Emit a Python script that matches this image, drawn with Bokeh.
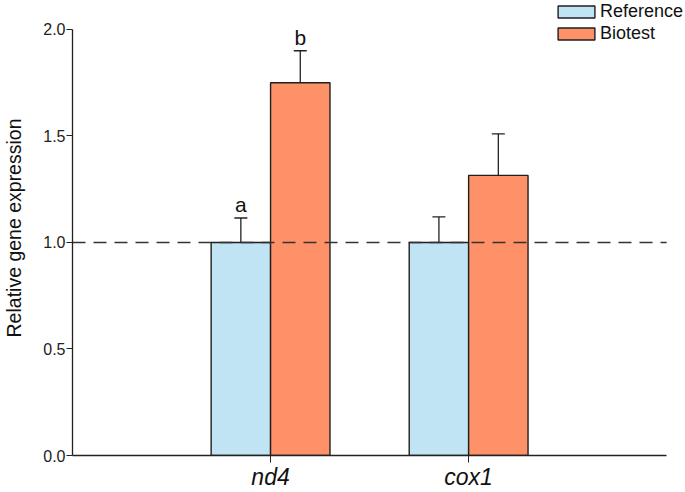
from bokeh.plotting import figure
from bokeh.models import ColumnDataSource, Whisker, TeeHead, FixedTicker, Legend, LegendItem, Range1d, PrintfTickFormatter
from bokeh.core.properties import value
from bokeh.embed import file_html
from bokeh.resources import INLINE

genes = ["nd4", "cox1"]
reference = [1.0, 1.0]
reference_err = [0.115, 0.12]
biotest = [1.75, 1.315]
biotest_err = [0.15, 0.195]
letters_ref = ["a", ""]
letters_bio = ["b", ""]
series = ["Reference", "Biotest"]
colors = ["#C0E4F3", "#FF9168"]
yticks = [0.0, 0.5, 1.0, 1.5, 2.0]
baseline = 1.0

pos = [i + 1 for i in range(len(genes))]
x_lo, x_hi = 0, len(genes) + 1
bw = 0.3
ref_x = [p - bw / 2 for p in pos]
bio_x = [p + bw / 2 for p in pos]

p = figure(width=685, height=492, output_backend="svg", toolbar_location=None,
           x_range=Range1d(0, 3.095), y_range=Range1d(0, 2.136),
           min_border_left=69, min_border_right=0, min_border_top=0, min_border_bottom=37)
p.outline_line_color = None
p.grid.visible = False
p.background_fill_color = None
p.border_fill_color = "white"

src_ref = ColumnDataSource(dict(x=ref_x, top=reference, up=[v + e for v, e in zip(reference, reference_err)], lab=letters_ref))
src_bio = ColumnDataSource(dict(x=bio_x, top=biotest, up=[v + e for v, e in zip(biotest, biotest_err)], lab=letters_bio))

r1 = p.vbar(x="x", top="top", width=bw, source=src_ref, fill_color=colors[0], line_color="#1f1f1f", line_width=1.4)
r2 = p.vbar(x="x", top="top", width=bw, source=src_bio, fill_color=colors[1], line_color="#1f1f1f", line_width=1.4)

p.line(x=[x_lo, x_hi], y=[baseline, baseline], line_color="#333333", line_dash="13 8", line_width=1.3)

for s in (src_ref, src_bio):
    w = Whisker(source=s, base="x", lower="top", upper="up", line_color="#222222", line_width=1.3,
                upper_head=TeeHead(size=13, line_color="#222222", line_width=1.3), lower_head=None)
    p.add_layout(w)
    p.text(x="x", y="up", text="lab", source=s, text_align="center", text_baseline="bottom",
           text_font=value("Liberation Sans"), text_font_size="21px", text_color="#111111", y_offset=-2)

p.xaxis.bounds = (x_lo, x_hi)
p.xaxis.ticker = FixedTicker(ticks=pos)
p.xaxis.major_label_overrides = {pp: g for pp, g in zip(pos, genes)}
p.xaxis.major_label_text_font = "Liberation Sans"
p.xaxis.major_label_text_font_style = "italic"
p.xaxis.major_label_text_font_size = "23px"
p.xaxis.major_label_text_color = "#111111"
p.xaxis.major_tick_in = 0
p.xaxis.major_tick_out = 7
p.xaxis.minor_tick_line_color = None
p.xaxis.axis_line_color = "#222222"
p.xaxis.major_tick_line_color = "#222222"
p.xaxis.axis_line_width = 1.3
p.xaxis.major_label_standoff = 1

p.yaxis.bounds = (yticks[0], yticks[-1])
p.yaxis.ticker = FixedTicker(ticks=yticks)
p.yaxis.formatter = PrintfTickFormatter(format="%.1f")
p.yaxis.major_label_text_font = "Liberation Sans"
p.yaxis.major_label_text_font_size = "16px"
p.yaxis.major_label_text_color = "#222222"
p.yaxis.major_tick_in = 0
p.yaxis.major_tick_out = 6
p.yaxis.minor_tick_line_color = None
p.yaxis.axis_line_color = "#222222"
p.yaxis.major_tick_line_color = "#222222"
p.yaxis.axis_line_width = 1.3
p.yaxis.major_label_standoff = 1
p.yaxis.axis_label = "Relative gene expression"
p.yaxis.axis_label_text_font = "Liberation Sans"
p.yaxis.axis_label_text_font_style = "normal"
p.yaxis.axis_label_text_font_size = "19.5px"
p.yaxis.axis_label_text_color = "#111111"
p.yaxis.axis_label_standoff = 15

legend = Legend(items=[LegendItem(label=series[0], renderers=[r1], index=0),
                       LegendItem(label=series[1], renderers=[r2], index=0)],
                location=(481, 411), orientation="vertical", glyph_width=46, glyph_height=15,
                label_text_font="Liberation Sans", label_text_font_size="18px", label_text_color="#111111",
                spacing=1, padding=0, margin=0, label_standoff=1, label_height=21,
                border_line_color=None, background_fill_alpha=0)
p.add_layout(legend, "center")

open("out.html", "w").write(file_html(p, INLINE))
